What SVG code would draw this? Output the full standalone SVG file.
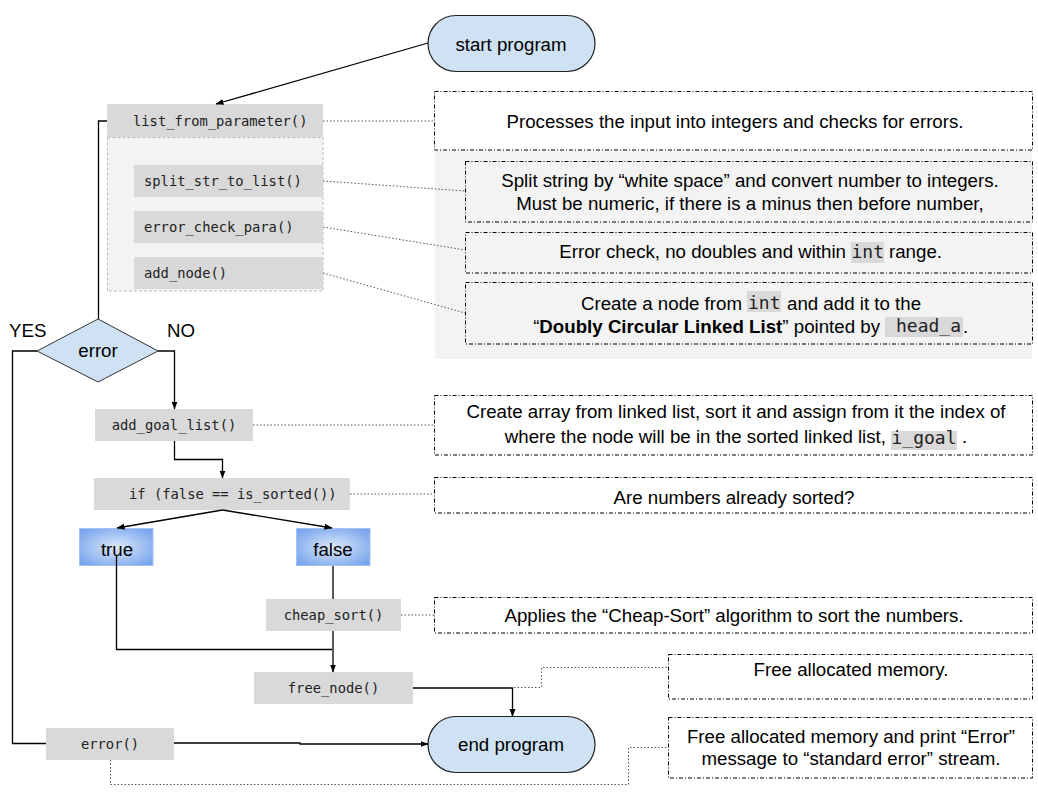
<svg xmlns="http://www.w3.org/2000/svg" width="1038" height="803" viewBox="0 0 1038 803">
<style>
.code{fill:#d9d9d9}
.ct{font-family:"DejaVu Sans Mono","Liberation Mono",monospace;font-size:13.8px;fill:#222}
.t{font-family:"Liberation Sans",Arial,sans-serif;font-size:18.7px;fill:#000}
.tc{font-family:"Liberation Sans",Arial,sans-serif;font-size:18.7px;fill:#000;text-anchor:middle}
.mono{font-family:"DejaVu Sans Mono","Liberation Mono",monospace;font-size:18px;fill:#222}
.note{fill:none;stroke:#000;stroke-width:1;stroke-dasharray:4 2 1 2}
.noteW{fill:#fff;stroke:#000;stroke-width:1;stroke-dasharray:4 2 1 2}
.pill{fill:#cfe2f3;stroke:#222;stroke-width:1.2}
.bool{fill:url(#bg);stroke:#a4c2f4;stroke-width:1}
.ln{fill:none;stroke:#000;stroke-width:1.3}
.arr{marker-end:url(#ah)}
.dot{fill:none;stroke:#555;stroke-width:1;stroke-dasharray:1.5 2}
</style>
<defs>
<marker id="ah" markerWidth="8" markerHeight="8" viewBox="0 0 8 8" refX="7.5" refY="4" orient="auto" markerUnits="userSpaceOnUse">
<path d="M0,1 L8,4 L0,7 Z" fill="#000"/>
</marker>
<radialGradient id="bg" cx="0.5" cy="0.5" r="0.7">
<stop offset="0" stop-color="#dbe7fb"/>
<stop offset="1" stop-color="#6d9eeb"/>
</radialGradient>
</defs>
<rect width="1038" height="803" fill="#fff"/>

<!-- background panel -->
<rect x="435" y="150" width="597" height="209" fill="#f3f3f3"/>

<g id="start">
<rect class="pill" x="428" y="15.5" width="167" height="56" rx="28"/>
<text class="tc" x="511" y="51">start program</text>
</g>

<g id="list_from_parameter_group">
<rect x="107.5" y="137.5" width="215.5" height="153.5" fill="#f3f3f3" stroke="#bbb" stroke-width="1" stroke-dasharray="3 2"/>
</g>
<g id="list_from_parameter">
<rect class="code" x="107" y="104" width="216" height="33"/>
<text class="ct" x="133" y="126">list_from_parameter()</text>
</g>
<g id="split_str_to_list">
<rect class="code" x="134" y="165" width="189" height="32"/>
<text class="ct" x="144" y="186">split_str_to_list()</text>
</g>
<g id="error_check_para">
<rect class="code" x="134" y="211" width="189" height="32"/>
<text class="ct" x="144" y="232">error_check_para()</text>
</g>
<g id="add_node">
<rect class="code" x="134" y="257" width="189" height="32"/>
<text class="ct" x="144" y="278">add_node()</text>
</g>

<g id="error_decision">
<polygon points="98,319 158,351 98,382 37,351" fill="#cfe2f3" stroke="#333" stroke-width="1"/>
<text class="tc" x="98" y="357">error</text>
</g>
<text class="t" x="9" y="337">YES</text>
<text class="t" x="167" y="337">NO</text>

<g id="add_goal_list">
<rect class="code" x="95" y="409" width="158" height="32"/>
<text class="ct" x="174" y="430" text-anchor="middle">add_goal_list()</text>
</g>
<g id="is_sorted">
<rect class="code" x="94" y="478" width="256" height="32"/>
<text class="ct" x="129" y="499">if (false == is_sorted())</text>
</g>
<g id="true">
<rect class="bool" x="79.5" y="528.5" width="73.5" height="37"/>
<text class="tc" x="117" y="556">true</text>
</g>
<g id="false">
<rect class="bool" x="296.5" y="528.5" width="73.5" height="37"/>
<text class="tc" x="333" y="556">false</text>
</g>
<g id="cheap_sort">
<rect class="code" x="266" y="599" width="135" height="32"/>
<text class="ct" x="333.5" y="620" text-anchor="middle">cheap_sort()</text>
</g>
<g id="free_node">
<rect class="code" x="254" y="672" width="159" height="32"/>
<text class="ct" x="333.5" y="693" text-anchor="middle">free_node()</text>
</g>
<g id="error_fn">
<rect class="code" x="46" y="728" width="128" height="32"/>
<text class="ct" x="110" y="749" text-anchor="middle">error()</text>
</g>
<g id="end">
<rect class="pill" x="428" y="716.5" width="167" height="56" rx="28"/>
<text class="tc" x="511" y="751">end program</text>
</g>

<!-- notes -->
<g id="note_list_from_parameter">
<rect class="noteW" x="434.5" y="91.5" width="598" height="58.5"/>
<text class="tc" x="735" y="128">Processes the input into integers and checks for errors.</text>
</g>
<g id="note_split">
<rect class="note" x="465.5" y="161.5" width="567" height="60.5"/>
<text class="tc" x="750" y="187">Split string by “white space” and convert number to integers.</text>
<text class="tc" x="750" y="210">Must be numeric, if there is a minus then before number,</text>
</g>
<g id="note_error_check">
<rect class="note" x="465.5" y="232.5" width="567" height="40.5"/>
<text class="t" x="846" y="258" text-anchor="end">Error check, no doubles and within</text>
<rect class="code" x="851" y="242" width="33" height="21"/>
<text class="mono" x="851.5" y="258">int</text>
<text class="t" x="889" y="258">range.</text>
</g>
<g id="note_add_node">
<rect class="note" x="465.5" y="282.5" width="567" height="61.5"/>
<text class="t" x="742" y="310" text-anchor="end">Create a node from</text>
<rect class="code" x="747" y="291" width="34" height="21"/>
<text class="mono" x="748" y="309">int</text>
<text class="t" x="787" y="310">and add it to the</text>
<text class="t" x="880" y="333" text-anchor="end">“<tspan font-weight="bold">Doubly Circular Linked List</tspan>” pointed by</text>
<rect class="code" x="885" y="317" width="78" height="20"/>
<text class="mono" x="896" y="332">head_a</text>
<text class="t" x="963" y="333">.</text>
</g>
<g id="note_add_goal_list">
<rect class="noteW" x="434.5" y="395.5" width="598" height="59.5"/>
<text class="tc" x="736" y="418">Create array from linked list, sort it and assign from it the index of</text>
<text class="t" x="886" y="443" text-anchor="end">where the node will be in the sorted linked list,</text>
<rect class="code" x="891" y="431" width="66" height="19"/>
<text class="mono" x="891.5" y="444">i_goal</text>
<text class="t" x="962" y="443">.</text>
</g>
<g id="note_is_sorted">
<rect class="noteW" x="434.5" y="477.5" width="598" height="35.5"/>
<text class="tc" x="734" y="504">Are numbers already sorted?</text>
</g>
<g id="note_cheap_sort">
<rect class="noteW" x="434.5" y="597.5" width="598" height="35.5"/>
<text class="tc" x="734" y="622">Applies the “Cheap-Sort” algorithm to sort the numbers.</text>
</g>
<g id="note_free_node">
<rect class="noteW" x="668.5" y="654.5" width="364" height="44.5"/>
<text class="tc" x="851" y="676">Free allocated memory.</text>
</g>
<g id="note_error">
<rect class="noteW" x="668.5" y="717.5" width="364" height="60.5"/>
<text class="tc" x="851" y="743">Free allocated memory and print “Error”</text>
<text class="tc" x="851" y="765">message to “standard error” stream.</text>
</g>

<g id="connectors">
<line class="ln arr" x1="428" y1="43" x2="216" y2="104"/>
<polyline class="ln" points="107,121 98.5,121 98.5,319"/>
<polyline class="ln" points="37,351 12.5,351 12.5,743.5 46,743.5"/>
<polyline class="ln arr" points="158,351 174.5,351 174.5,409"/>
<polyline class="ln arr" points="174.5,441 174.5,459.5 222.5,459.5 222.5,478"/>
<line class="ln arr" x1="222.5" y1="510" x2="117" y2="528"/>
<line class="ln arr" x1="222.5" y1="510" x2="332" y2="528"/>
<line class="ln" x1="333" y1="566" x2="333" y2="599"/>
<line class="ln arr" x1="333" y1="631" x2="333" y2="672"/>
<polyline class="ln" points="116.5,556 116.5,649.5 332,649.5"/>
<polyline class="ln arr" points="413,688 512.5,688 512.5,716.5"/>
<polyline class="ln arr" points="174,743 300,743 300,744 428,744"/>

<line class="dot" x1="323" y1="121" x2="434" y2="121"/>
<line class="dot" x1="323" y1="181" x2="465" y2="191"/>
<line class="dot" x1="323" y1="227" x2="465" y2="250"/>
<line class="dot" x1="323" y1="273" x2="465" y2="313"/>
<line class="dot" x1="253" y1="425" x2="434" y2="425"/>
<line class="dot" x1="350" y1="494" x2="434" y2="494"/>
<line class="dot" x1="401" y1="615" x2="434" y2="615"/>
<polyline class="dot" points="514,687.5 541.5,687.5 541.5,667.5 668,667.5"/>
<polyline class="dot" points="110.5,760 110.5,784.5 628.5,784.5 628.5,747.5 668,747.5"/>
</g>
</svg>
